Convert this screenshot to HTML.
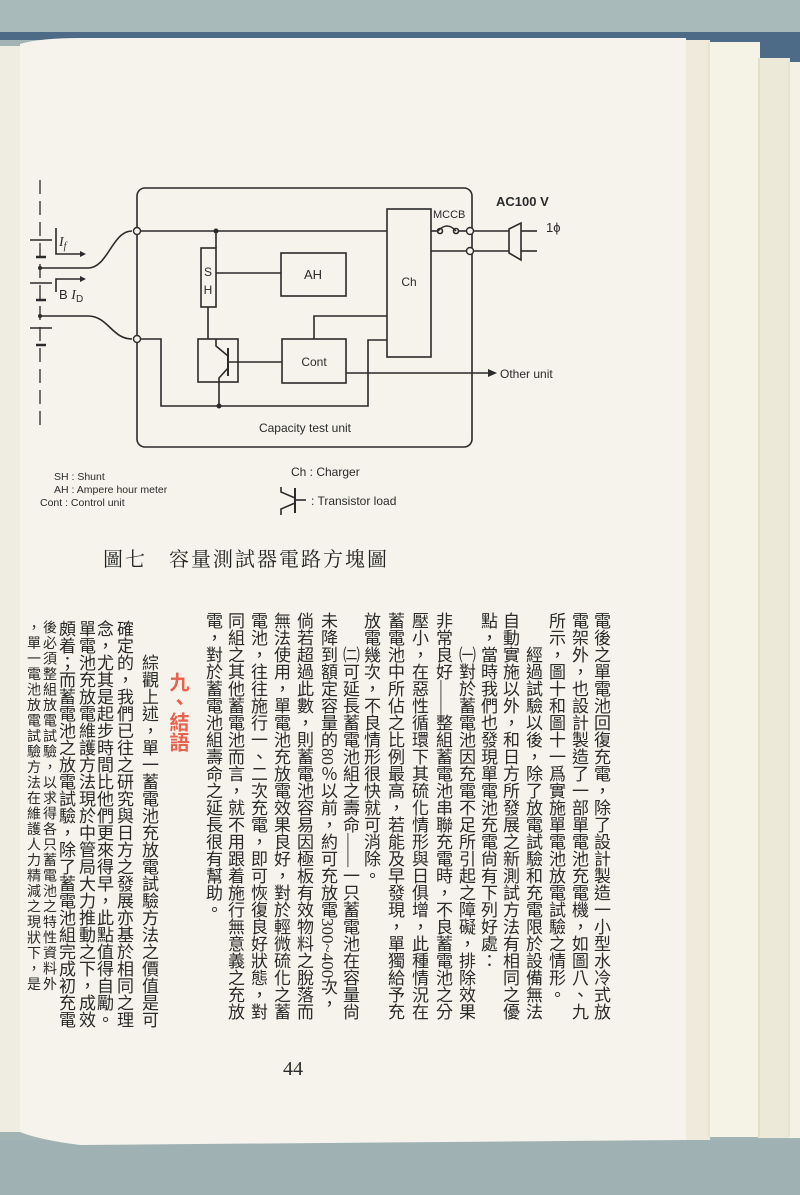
<!DOCTYPE html>
<html><head><meta charset="utf-8">
<style>
html,body{margin:0;padding:0;}
body{width:800px;height:1195px;position:relative;overflow:hidden;background:#a3b4b5;font-family:"Liberation Sans","Noto Sans CJK TC",sans-serif;}
.v{position:absolute;writing-mode:vertical-rl;font-family:"Liberation Serif","Noto Sans CJK TC",sans-serif;font-size:17px;line-height:20px;color:#2a2a2a;white-space:nowrap;}
.s{font-size:14px;letter-spacing:1.5px;line-height:16px;}
svg{position:absolute;left:0;top:0;}
</style></head><body>
<svg width="800" height="1195" viewBox="0 0 800 1195">
 <!-- background pieces -->
 <rect x="0" y="0" width="800" height="34" fill="#a9babb"/>
 <rect x="0" y="32" width="800" height="8" fill="#4d6a86"/>
 <rect x="700" y="32" width="100" height="32" fill="#4d6a86"/>
 <rect x="0" y="1140" width="800" height="55" fill="#9fb1b3"/>
 <!-- page edges right -->
 <rect x="684" y="40" width="26" height="1100" fill="#efeadb"/>
 <rect x="708" y="42" width="52" height="1095" fill="#f5f2e6"/>
 <rect x="758" y="58" width="32" height="1080" fill="#ede9d9"/>
 <rect x="788" y="62" width="12" height="1076" fill="#f4f1e5"/>
 <line x1="709" y1="42" x2="709" y2="1137" stroke="#d8d2bc" stroke-width="1"/>
 <line x1="759" y1="58" x2="759" y2="1137" stroke="#d8d2bc" stroke-width="1"/>
 <line x1="789" y1="62" x2="789" y2="1137" stroke="#d8d2bc" stroke-width="1"/>
 <!-- left sliver -->
 <rect x="0" y="46" width="20" height="1086" fill="#efece2"/>
 <!-- main page -->
 <path d="M20 44 Q40 38 80 38 L686 38 L686 1140 L80 1145 Q40 1140 20 1132 Z" fill="#f5f3ec"/>

 <g stroke="#2b2b2b" stroke-width="1.6" fill="none">
  <!-- battery -->
  <line x1="40" y1="180" x2="40" y2="425" stroke-dasharray="14,7" stroke-width="1.3"/>
  <line x1="30" y1="240" x2="52" y2="240"/>
  <line x1="36" y1="257" x2="46" y2="257" stroke-width="2.5"/>
  <line x1="30" y1="283" x2="52" y2="283"/>
  <line x1="36" y1="300" x2="46" y2="300" stroke-width="2.5"/>
  <line x1="30" y1="328" x2="52" y2="328"/>
  <line x1="36" y1="345" x2="46" y2="345" stroke-width="2.5"/>
  <!-- If arrow -->
  <path d="M56 228 L56 254 L80 254"/>
  <path d="M56 292 L56 279 L80 279"/>
  <!-- curves to nodes -->
  <path d="M40 268 L88 268 C108 268 112 231 132 231"/>
  <path d="M40 316 L88 316 C108 316 112 339 132 339"/>
  <!-- outer box -->
  <rect x="137" y="188" width="335" height="259" rx="8"/>
  <!-- top wire -->
  <line x1="137" y1="231" x2="387" y2="231"/>
  <!-- SH -->
  <line x1="216" y1="231" x2="216" y2="248"/>
  <rect x="201" y="248" width="15" height="59"/>
  <line x1="208" y1="307" x2="208" y2="339"/>
  <line x1="216" y1="273" x2="281" y2="273"/>
  <rect x="281" y="253" width="65" height="43"/>
  <!-- transistor -->
  <rect x="198" y="339" width="40" height="43"/>
  <line x1="228" y1="348" x2="228" y2="376" stroke-width="2"/>
  <line x1="228" y1="362" x2="282" y2="362"/>
  <path d="M228 356 L216 346 L216 339"/>
  <path d="M228 368 L219 378 L219 406"/>
  <!-- Cont -->
  <rect x="282" y="339" width="64" height="44"/>
  <path d="M314 339 L314 316 L387 316"/>
  <line x1="346" y1="373" x2="488" y2="373"/>
  <!-- bottom wire -->
  <path d="M137 339 L161 339 L161 406 L368 406 L368 340 L387 340"/>
  <!-- Ch -->
  <rect x="387" y="209" width="44" height="148"/>
  <!-- MCCB -->
  <path d="M431 231 L438 231"/>
  <path d="M438 231 Q447 221 456 231"/>
  <circle cx="440" cy="231" r="2.5"/>
  <circle cx="456" cy="231" r="2.5"/>
  <line x1="458" y1="231" x2="470" y2="231"/>
  <line x1="431" y1="251" x2="470" y2="251"/>
  <!-- plug -->
  <line x1="470" y1="231" x2="509" y2="231"/>
  <line x1="470" y1="251" x2="509" y2="251"/>
  <path d="M509 229 L521 223 L521 260 L509 253 Z"/>
  <line x1="521" y1="231" x2="537" y2="231"/>
  <line x1="521" y1="251" x2="537" y2="251"/>
  <!-- legend transistor -->
  <line x1="295" y1="488" x2="295" y2="513" stroke-width="2"/>
  <path d="M281 487 L281 492 L295 498"/>
  <path d="M295 503 L281 509 L281 515"/>
  <line x1="295" y1="500" x2="306" y2="500"/>
 </g>
 <path d="M488 369 L497 373 L488 377 Z" fill="#2b2b2b"/>
 <path d="M80 251 L86 254 L80 257 Z" fill="#2b2b2b"/>
 <path d="M80 276 L86 279 L80 282 Z" fill="#2b2b2b"/>
 <g fill="#f5f3ec" stroke="#2b2b2b" stroke-width="1.4">
  <circle cx="137" cy="231" r="3.5"/><circle cx="137" cy="339" r="3.5"/>
  <circle cx="470" cy="231" r="3.5"/><circle cx="470" cy="251" r="3.5"/>
 </g>
 <circle cx="216" cy="231" r="2.5" fill="#2b2b2b"/>
 <circle cx="219" cy="406" r="2.5" fill="#2b2b2b"/>
 <circle cx="40" cy="268" r="2" fill="#2b2b2b"/>
 <circle cx="40" cy="316" r="2" fill="#2b2b2b"/>

 <g font-family="Liberation Sans, sans-serif" fill="#2b2b2b">
  <text x="59" y="246" font-size="14" font-style="italic" font-family="Liberation Serif, serif">I<tspan font-size="10" dy="3">f</tspan></text>
  <text x="59" y="299" font-size="13">B <tspan font-family="Liberation Serif, serif" font-style="italic" font-size="14">I</tspan><tspan font-size="10" dy="3">D</tspan></text>
  <text x="208" y="276" font-size="12" text-anchor="middle">S</text>
  <text x="208" y="294" font-size="12" text-anchor="middle">H</text>
  <text x="313" y="279" font-size="13" text-anchor="middle">AH</text>
  <text x="314" y="366" font-size="12" text-anchor="middle">Cont</text>
  <text x="409" y="286" font-size="12" text-anchor="middle">Ch</text>
  <text x="305" y="432" font-size="12" text-anchor="middle">Capacity test unit</text>
  <text x="433" y="218" font-size="11">MCCB</text>
  <text x="496" y="206" font-size="13" font-weight="bold">AC100 V</text>
  <text x="546" y="232" font-size="13">1ϕ</text>
  <text x="500" y="378" font-size="12">Other unit</text>
  <text x="54" y="480" font-size="10.5">SH : Shunt</text>
  <text x="54" y="493" font-size="10.5">AH : Ampere hour meter</text>
  <text x="40" y="506" font-size="10.5">Cont : Control unit</text>
  <text x="291" y="476" font-size="12">Ch : Charger</text>
  <text x="311" y="505" font-size="12">: Transistor load</text>
  <text x="293" y="1075" font-size="20" font-family="Liberation Serif, serif" text-anchor="middle">44</text>
 </g>
 <text x="103" y="566" font-size="20" fill="#222" font-family="Liberation Serif, Noto Serif CJK SC, serif" letter-spacing="2">圖七　容量測試器電路方塊圖</text>
</svg>

<div class="v" style="left:590px;top:612px">電後之單電池回復充電，除了設計製造一小型水冷式放</div>
<div class="v" style="left:568px;top:612px">電架外，也設計製造了一部單電池充電機，如圖八、九</div>
<div class="v" style="left:545px;top:612px">所示，圖十和圖十一爲實施單電池放電試驗之情形。</div>
<div class="v" style="left:522px;top:646px">經過試驗以後，除了放電試驗和充電限於設備無法</div>
<div class="v" style="left:499px;top:612px">自動實施以外，和日方所發展之新測試方法有相同之優</div>
<div class="v" style="left:477px;top:612px">點，當時我們也發現單電池充電尙有下列好處：</div>
<div class="v" style="left:455px;top:646px">㈠對於蓄電池因充電不足所引起之障礙，排除效果</div>
<div class="v" style="left:432px;top:612px">非常良好——整組蓄電池串聯充電時，不良蓄電池之分</div>
<div class="v" style="left:408px;top:612px">壓小，在惡性循環下其硫化情形與日俱增，此種情況在</div>
<div class="v" style="left:384px;top:612px">蓄電池中所佔之比例最高，若能及早發現，單獨給予充</div>
<div class="v" style="left:360px;top:612px">放電幾次，不良情形很快就可消除。</div>
<div class="v" style="left:339px;top:646px">㈡可延長蓄電池組之壽命——一只蓄電池在容量尙</div>
<div class="v" style="left:317px;top:612px">未降到額定容量的80％以前，約可充放電300~400次，</div>
<div class="v" style="left:293px;top:612px">倘若超過此數，則蓄電池容易因極板有效物料之脫落而</div>
<div class="v" style="left:270px;top:612px">無法使用，單電池充放電效果良好，對於輕微硫化之蓄</div>
<div class="v" style="left:247px;top:612px">電池，往往施行一、二次充電，即可恢復良好狀態，對</div>
<div class="v" style="left:224px;top:612px">同組之其他蓄電池而言，就不用跟着施行無意義之充放</div>
<div class="v" style="left:202px;top:612px">電，對於蓄電池組壽命之延長很有幫助。</div>

<div class="v" style="left:166px;top:672px;color:#e8634e;font-weight:bold;font-size:20px;line-height:22px">九、結語</div>
<div class="v" style="left:138px;top:654px">綜觀上述，單一蓄電池充放電試驗方法之價值是可</div>
<div class="v" style="left:113px;top:620px">確定的，我們已往之研究與日方之發展亦基於相同之理</div>
<div class="v" style="left:93px;top:620px">念，尤其是起步時間比他們更來得早，此點值得自勵。</div>
<div class="v" style="left:75px;top:620px">單電池充放電維護方法現於中管局大力推動之下，成效</div>
<div class="v" style="left:55px;top:620px">頗着；而蓄電池之放電試驗，除了蓄電池組完成初充電</div>
<div class="v s" style="left:40px;top:620px">後必須整組放電試驗，以求得各只蓄電池之特性資料外</div>
<div class="v s" style="left:24px;top:620px">，單一電池放電試驗方法在維護人力精減之現狀下，是</div>
</body></html>
